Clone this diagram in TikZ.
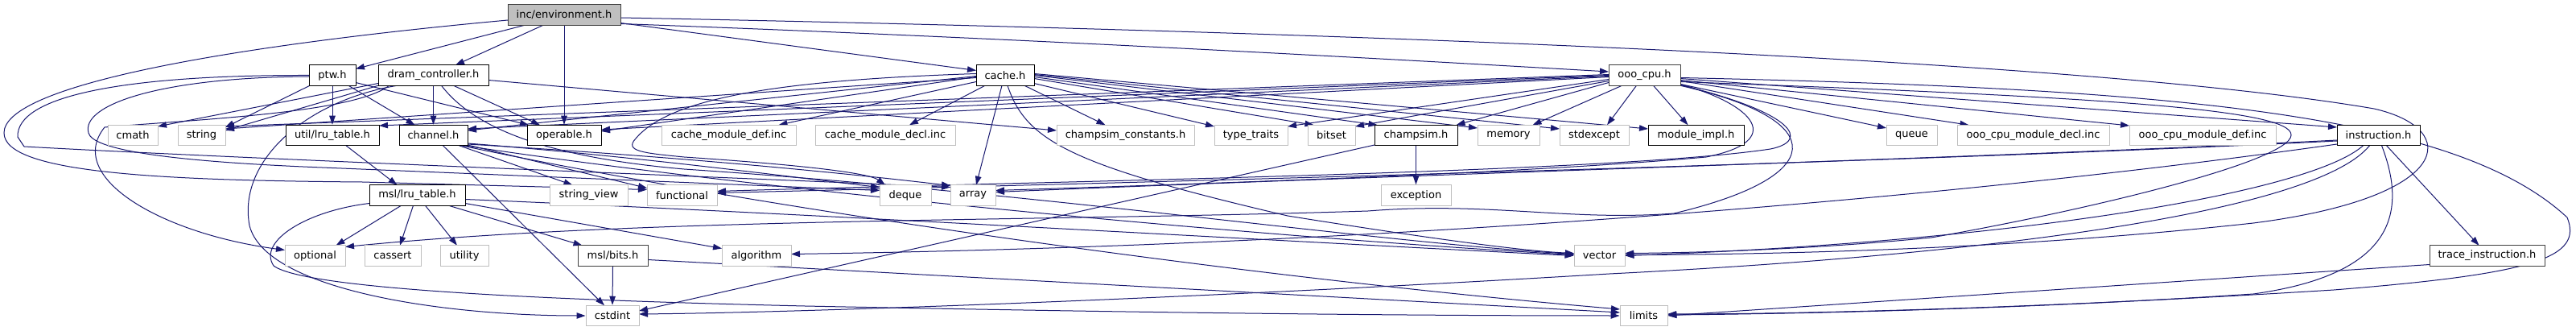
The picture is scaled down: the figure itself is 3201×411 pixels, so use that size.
\documentclass[tikz,border=0pt]{standalone}
\usepackage{fontspec}
\setmainfont{DejaVu Sans}
\usetikzlibrary{arrows.meta,calc}
\definecolor{edgec}{HTML}{191970}
\definecolor{extb}{HTML}{BFBFBF}
\definecolor{dgray}{HTML}{404040}
\tikzset{
  box/.style={rectangle, inner sep=0pt, minimum height=25.5pt, line width=1pt, font=\fontsize{13}{15}\selectfont, text=black},
  docn/.style={box, draw=black, fill=white},
  docg/.style={box, draw=dgray, fill=white},
  extn/.style={box, draw=extb, fill=white},
  rootn/.style={box, draw=dgray, fill=extb},
  dep/.style={draw=edgec, line width=1pt, -{Triangle[length=11pt,width=7.5pt]}}
}
\begin{document}
\begin{tikzpicture}[x=1pt,y=-1pt]
\useasboundingbox[fill=white] (0,0) rectangle (3201,411);
% row 1
\node[rootn, minimum width=140pt] (env) at (701,18.5) {inc/environment.h};
% row 2
\node[docn, minimum width=58pt] (ptw) at (413,93.5) {ptw.h};
\node[docn, minimum width=137pt] (dram) at (538.5,93.5) {dram\_controller.h};
\node[docn, minimum width=72pt] (cache) at (1249,93.5) {cache.h};
\node[docg, minimum width=89pt] (ooo) at (2043.5,93.5) {ooo\_cpu.h};
% row 3
\node[extn, minimum width=62pt] (cmath) at (165,168) {cmath};
\node[extn, minimum width=59pt] (string) at (250.5,168) {string};
\node[docn, minimum width=116pt] (ulru) at (413,168) {util/lru\_table.h};
\node[docn, minimum width=85pt] (chan) at (538.5,168) {channel.h};
\node[docn, minimum width=92pt] (oper) at (701,168) {operable.h};
\node[extn, minimum width=167pt] (cmdef) at (905.5,168) {cache\_module\_def.inc};
\node[extn, minimum width=174pt] (cmdecl) at (1100,168) {cache\_module\_decl.inc};
\node[extn, minimum width=171pt] (cconst) at (1398.5,168) {champsim\_constants.h};
\node[extn, minimum width=91pt] (ttraits) at (1554.5,168) {type\_traits};
\node[extn, minimum width=59pt] (bitset) at (1654.5,168) {bitset};
\node[docn, minimum width=103pt] (csim) at (1759.5,168) {champsim.h};
\node[extn, minimum width=77pt] (memory) at (1874.5,168) {memory};
\node[extn, minimum width=86pt] (stdexc) at (1981,168) {stdexcept};
\node[docn, minimum width=119pt] (modimpl) at (2107.5,168) {module\_impl.h};
\node[extn, minimum width=63pt] (queue) at (2375.5,168) {queue};
\node[extn, minimum width=189pt] (ocdecl) at (2526.5,168) {ooo\_cpu\_module\_decl.inc};
\node[extn, minimum width=182pt] (ocdef) at (2737,168) {ooo\_cpu\_module\_def.inc};
\node[docn, minimum width=103pt] (instr) at (2955.5,168) {instruction.h};
% row 4
\node[docn, minimum width=119pt] (mlru) at (518.5,242.5) {msl/lru\_table.h};
\node[extn, minimum width=97pt] (sview) at (731.5,242.5) {string\_view};
\node[extn, minimum width=87pt] (func) at (847.5,242.5) {functional};
\node[extn, minimum width=64pt] (deque) at (1125,242.5) {deque};
\node[extn, minimum width=56pt] (array) at (1209,242.5) {array};
\node[extn, minimum width=87pt] (except) at (1759.5,242.5) {exception};
% row 5
\node[extn, minimum width=75pt] (optional) at (391.5,317.5) {optional};
\node[extn, minimum width=70pt] (cassert) at (488,317.5) {cassert};
\node[extn, minimum width=60pt] (utility) at (577,317.5) {utility};
\node[docg, minimum width=87pt] (bits) at (761.5,317.5) {msl/bits.h};
\node[extn, minimum width=86pt] (algo) at (940,317.5) {algorithm};
\node[extn, minimum width=63pt] (vector) at (1987.5,317.5) {vector};
\node[docg, minimum width=143pt] (trace) at (3090.5,317.5) {trace\_instruction.h};
% row 6
\node[extn, minimum width=66pt] (cstdint) at (761,392) {cstdint};
\node[extn, minimum width=59pt] (limits) at (2042.5,392) {limits};

% ---------- environment.h ----------
\draw[dep] ($(env)+(-49,12.75)$) -- ($(ptw)+(29,-8)$);
\draw[dep] ($(env)+(-26,12.75)$) -- ($(dram)+(27.5,-12.75)$);
\draw[dep] (env.south) -- (oper.north);
\draw[dep] ($(env)+(70,10)$) -- ($(cache)+(-36,-6)$);
\draw[dep] ($(env)+(70,11)$) .. controls (1200,45) and (1600,66) .. ($(ooo)+(-44.5,-4.5)$);
\draw[dep] ($(env)+(70,3.5)$) .. controls (1700,40) and (2600,75) .. (2950,135) .. controls (3060,160) and (3050,245) .. (2800,277) .. controls (2500,310) and (2200,316) .. ($(vector)+(31.5,-1)$);
\draw[dep] ($(env)+(-70,6.5)$) .. controls (250,60) and (5,110) .. (5,165) .. controls (5,215) and (200,224) .. (450,226) -- ($(func)+(-43.5,-7)$);

% ---------- ptw.h ----------
\draw[dep] (ptw.south) -- (ulru.north);
\draw[dep] ($(ptw)+(20,12.75)$) -- ($(chan)+(-23,-12.75)$);
\draw[dep] ($(ptw)+(-28,12.75)$) -- ($(string)+(29.5,-10)$);
\draw[dep] ($(ptw)+(29,9)$) -- ($(oper)+(-44,-12.75)$);
\draw[dep] ($(ptw)+(-29,0)$) .. controls (150,93) and (20,120) .. (22,170) -- (30,182) .. controls (300,197) and (900,220) .. ($(array)+(-28,-10)$);
\draw[dep] ($(ptw)+(-29,1.5)$) .. controls (200,96) and (100,130) .. (110,165) .. controls (115,185) and (200,200) .. (400,208) -- ($(deque)+(-32,-6)$);

% ---------- dram_controller.h ----------
\draw[dep] ($(dram)+(-68.5,10)$) -- ($(cmath)+(31,-11)$);
\draw[dep] ($(dram)+(-68.5,12.75)$) -- ($(string)+(29.5,-6)$);
\draw[dep] ($(dram)+(-55,12.75)$) .. controls (440,140) and (250,148) .. (130,158) .. controls (80,220) and (200,290) .. ($(optional)+(-37.5,-7)$);
\draw[dep] ($(dram)+(-45,12.75)$) .. controls (380,125) and (295,200) .. (310,280) .. controls (330,360) and (550,392) .. (cstdint.west);
\draw[dep] (dram.south) -- (chan.north);
\draw[dep] ($(dram)+(25,12.75)$) -- ($(oper)+(-30,-12.75)$);
\draw[dep] ($(dram)+(68.5,6)$) -- ($(cconst)+(-85.5,-6)$);
\draw[dep] ($(dram)+(10,12.75)$) .. controls (590,160) and (680,195) .. (850,210) .. controls (1300,240) and (1700,300) .. ($(vector)+(-31.5,-2)$);

% ---------- cache.h ----------
\draw[dep] ($(cache)+(-36,8)$) -- ($(cmdef)+(62,-12.75)$);
\draw[dep] ($(cache)+(-25,12.75)$) -- ($(cmdecl)+(30,-12.75)$);
\draw[dep] ($(cache)+(24,12.75)$) -- ($(cconst)+(-25,-12.75)$);
\draw[dep] ($(cache)+(36,10)$) -- ($(ttraits)+(-45.5,-11)$);
\draw[dep] ($(cache)+(-4,12.75)$) -- ($(array)+(4,-12.75)$);
\draw[dep] ($(cache)+(3,12.75)$) .. controls (1275,175) and (1330,205) .. (1600,268) .. controls (1800,300) and (1900,312) .. ($(vector)+(-31.5,-3)$);
\draw[dep] ($(cache)+(36,4)$) -- ($(bitset)+(-22,-12.75)$);
\draw[dep] ($(cache)+(36,2)$) -- ($(csim)+(-48,-12.75)$);
\draw[dep] ($(cache)+(36,0)$) -- ($(memory)+(-38.5,-9)$);
\draw[dep] ($(cache)+(36,-1)$) -- ($(stdexc)+(-43,-8)$);
\draw[dep] ($(cache)+(36,-2)$) -- ($(modimpl)+(-59.5,-8)$);
\draw[dep] ($(cache)+(-36,2)$) -- ($(oper)+(46,-5)$);
\draw[dep] ($(cache)+(-36,1)$) -- ($(chan)+(42.5,-6)$);
\draw[dep] ($(cache)+(-36,3)$) -- ($(string)+(29.5,-8)$);
\draw[dep] ($(cache)+(-36,-2)$) .. controls (950,100) and (830,125) .. (790,172) .. controls (775,188) and (800,190) .. (850,195) .. controls (1000,205) and (1080,215) .. ($(deque)+(-25,-12.75)$);

% ---------- ooo_cpu.h ----------
\draw[dep] ($(ooo)+(44.5,11)$) -- ($(queue)+(-31.5,-9)$);
\draw[dep] ($(ooo)+(44.5,7)$) -- ($(ocdecl)+(-80,-12.75)$);
\draw[dep] ($(ooo)+(44.5,6)$) -- ($(ocdef)+(-91,-12)$);
\draw[dep] ($(ooo)+(44.5,4)$) -- ($(instr)+(-51.5,-10)$);
\draw[dep] ($(ooo)+(11,12.75)$) -- ($(modimpl)+(-10,-12.75)$);
\draw[dep] ($(ooo)+(-10,12.75)$) -- ($(stdexc)+(16,-12.75)$);
\draw[dep] ($(ooo)+(-28,12.75)$) -- ($(memory)+(30,-12.75)$);
\draw[dep] ($(ooo)+(-44.5,9)$) -- ($(csim)+(50,-12.75)$);
\draw[dep] ($(ooo)+(-44.5,7)$) -- ($(bitset)+(29.5,-11)$);
\draw[dep] ($(ooo)+(-44.5,5)$) -- ($(ttraits)+(45.5,-11)$);
\draw[dep] ($(ooo)+(-44.5,2)$) -- ($(oper)+(46,-7)$);
\draw[dep] ($(ooo)+(-44.5,1)$) -- ($(chan)+(42.5,-8)$);
\draw[dep] ($(ooo)+(-44.5,0)$) -- ($(ulru)+(58,-12)$);
\draw[dep] ($(ooo)+(-44.5,-1)$) -- ($(string)+(29.5,-11)$);
\draw[dep] ($(ooo)+(44.5,11)$) .. controls (2180,130) and (2220,175) .. (2120,195) .. controls (1900,215) and (1500,228) .. ($(array)+(28,-6)$);
\draw[dep] ($(ooo)+(44.5,12)$) .. controls (2230,140) and (2250,175) .. (2200,185) .. controls (2000,215) and (1300,225) .. ($(func)+(43.5,-5)$);
\draw[dep] ($(ooo)+(44.5,12.75)$) .. controls (2280,150) and (2270,220) .. (2080,265) .. controls (1950,275) and (1850,250) .. (1700,262) .. controls (1300,275) and (800,270) .. ($(optional)+(37.5,-11)$);
\draw[dep] ($(ooo)+(44.5,3)$) .. controls (2700,110) and (3050,140) .. (3190,270) .. controls (3210,320) and (3150,340) .. (2900,360) .. controls (2500,385) and (2200,390) .. ($(limits)+(29.5,-2)$);
\draw[dep] ($(ooo)+(44.5,8)$) .. controls (2600,120) and (2850,135) .. (2847,168) .. controls (2845,200) and (2600,260) .. (2400,295) .. controls (2250,310) and (2100,314) .. ($(vector)+(31.5,-3)$);

% ---------- channel.h ----------
\draw[dep] ($(chan)+(32,12.75)$) -- ($(sview)+(-20,-12.75)$);
\draw[dep] ($(chan)+(12,12.75)$) -- ($(cstdint)+(-10,-12.75)$);
\draw[dep] ($(chan)+(42.5,10)$) .. controls (800,195) and (1000,222) .. ($(deque)+(-32,-10)$);
\draw[dep] ($(chan)+(42.5,11)$) .. controls (850,195) and (1050,215) .. ($(array)+(-28,-12)$);
\draw[dep] ($(chan)+(42.5,12)$) -- ($(func)+(-43.5,-9)$);
\draw[dep] ($(chan)+(38,12.75)$) .. controls (900,230) and (1500,290) .. ($(vector)+(-31.5,-1)$);
\draw[dep] ($(chan)+(35,12.75)$) .. controls (900,250) and (1500,340) .. ($(limits)+(-29.5,-8)$);

% ---------- util/lru_table.h ----------
\draw[dep] ($(ulru)+(17,12.75)$) -- ($(mlru)+(-25,-12.75)$);

% ---------- msl/lru_table.h ----------
\draw[dep] ($(mlru)+(-20,12.75)$) -- ($(optional)+(26,-12.75)$);
\draw[dep] ($(mlru)+(-5,12.75)$) -- ($(cassert)+(9,-12.75)$);
\draw[dep] ($(mlru)+(10,12.75)$) -- ($(utility)+(-9,-12.75)$);
\draw[dep] ($(mlru)+(39,12.75)$) -- ($(bits)+(-38,-12.75)$);
\draw[dep] ($(mlru)+(59.5,10)$) -- ($(algo)+(-43,-9)$);
\draw[dep] ($(mlru)+(59.5,5)$) .. controls (1000,265) and (1600,300) .. (vector.west);
\draw[dep] ($(mlru)+(-59.5,10)$) .. controls (380,262) and (320,300) .. (340,330) .. controls (380,360) and (700,373) .. (1000,380) .. controls (1500,390) and (1800,392) .. (limits.west);

% ---------- msl/bits.h ----------
\draw[dep] (bits.south) -- (cstdint.north);
\draw[dep] ($(bits)+(43.5,5)$) -- ($(limits)+(-29.5,-4)$);

% ---------- champsim.h ----------
\draw[dep] (csim.south) -- (except.north);
\draw[dep] ($(csim)+(-51.5,12)$) -- ($(cstdint)+(33,-6)$);

% ---------- instruction.h ----------
\draw[dep] ($(instr)+(10,12.75)$) -- ($(trace)+(-10,-12.75)$);
\draw[dep] ($(instr)+(-51.5,6)$) .. controls (2500,195) and (1800,215) .. ($(array)+(28,-4)$);
\draw[dep] ($(instr)+(-51.5,7)$) .. controls (2400,200) and (1500,225) .. ($(func)+(43.5,-3)$);
\draw[dep] ($(instr)+(-51.5,11)$) .. controls (2400,250) and (1700,305) .. ($(algo)+(43,-2)$);
\draw[dep] ($(instr)+(-19,12.75)$) .. controls (2870,240) and (2500,300) .. (vector.east);
\draw[dep] ($(instr)+(-11,12.75)$) .. controls (2880,260) and (2500,315) .. (2000,340) .. controls (1500,370) and (1000,388) .. ($(cstdint)+(33,-2)$);
\draw[dep] ($(instr)+(4,12.75)$) .. controls (2990,260) and (2980,340) .. (2800,365) .. controls (2500,385) and (2200,390) .. ($(limits)+(29.5,-1)$);

% ---------- trace_instruction.h ----------
\draw[dep] ($(trace)+(-71.5,11)$) -- (limits.east);

% redraw node boxes on top of the connectors
\node[rootn, minimum width=140pt] at (env) {inc/environment.h};
\node[docn, minimum width=58pt] at (ptw) {ptw.h};
\node[docn, minimum width=137pt] at (dram) {dram\_controller.h};
\node[docn, minimum width=72pt] at (cache) {cache.h};
\node[docg, minimum width=89pt] at (ooo) {ooo\_cpu.h};
\node[extn, minimum width=62pt] at (cmath) {cmath};
\node[extn, minimum width=59pt] at (string) {string};
\node[docn, minimum width=116pt] at (ulru) {util/lru\_table.h};
\node[docn, minimum width=85pt] at (chan) {channel.h};
\node[docn, minimum width=92pt] at (oper) {operable.h};
\node[extn, minimum width=167pt] at (cmdef) {cache\_module\_def.inc};
\node[extn, minimum width=174pt] at (cmdecl) {cache\_module\_decl.inc};
\node[extn, minimum width=171pt] at (cconst) {champsim\_constants.h};
\node[extn, minimum width=91pt] at (ttraits) {type\_traits};
\node[extn, minimum width=59pt] at (bitset) {bitset};
\node[docn, minimum width=103pt] at (csim) {champsim.h};
\node[extn, minimum width=77pt] at (memory) {memory};
\node[extn, minimum width=86pt] at (stdexc) {stdexcept};
\node[docn, minimum width=119pt] at (modimpl) {module\_impl.h};
\node[extn, minimum width=63pt] at (queue) {queue};
\node[extn, minimum width=189pt] at (ocdecl) {ooo\_cpu\_module\_decl.inc};
\node[extn, minimum width=182pt] at (ocdef) {ooo\_cpu\_module\_def.inc};
\node[docn, minimum width=103pt] at (instr) {instruction.h};
\node[docn, minimum width=119pt] at (mlru) {msl/lru\_table.h};
\node[extn, minimum width=97pt] at (sview) {string\_view};
\node[extn, minimum width=87pt] at (func) {functional};
\node[extn, minimum width=64pt] at (deque) {deque};
\node[extn, minimum width=56pt] at (array) {array};
\node[extn, minimum width=87pt] at (except) {exception};
\node[extn, minimum width=75pt] at (optional) {optional};
\node[extn, minimum width=70pt] at (cassert) {cassert};
\node[extn, minimum width=60pt] at (utility) {utility};
\node[docg, minimum width=87pt] at (bits) {msl/bits.h};
\node[extn, minimum width=86pt] at (algo) {algorithm};
\node[extn, minimum width=63pt] at (vector) {vector};
\node[docg, minimum width=143pt] at (trace) {trace\_instruction.h};
\node[extn, minimum width=66pt] at (cstdint) {cstdint};
\node[extn, minimum width=59pt] at (limits) {limits};
\end{tikzpicture}
\end{document}
